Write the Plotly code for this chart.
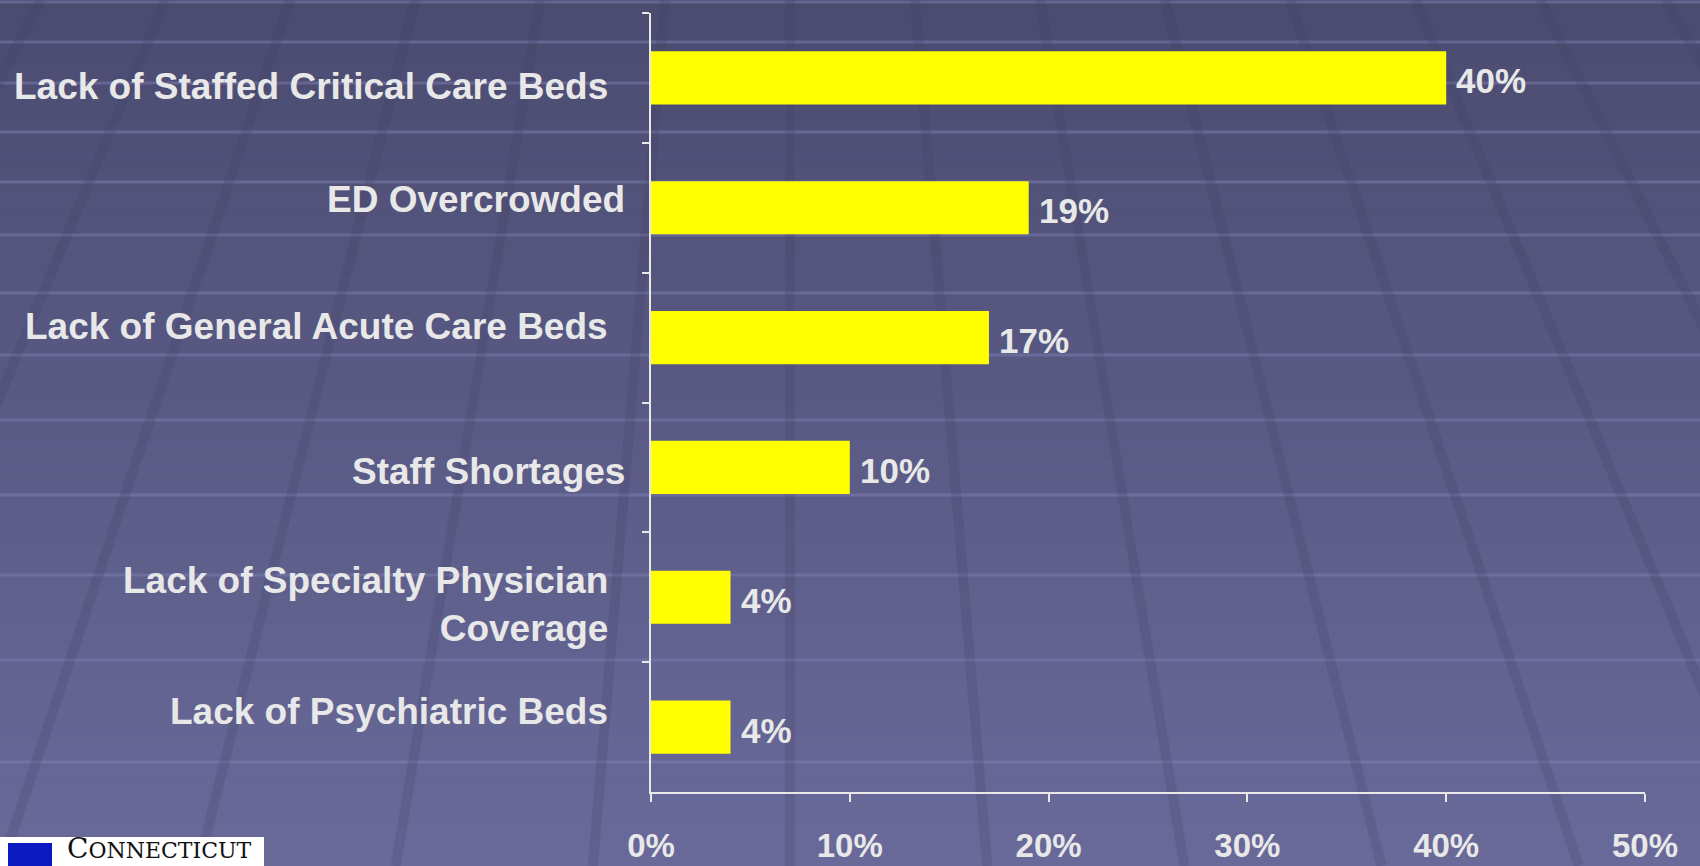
import plotly.graph_objects as go

# ---- data ----
categories = [
    "Lack of Staffed Critical Care Beds",
    "ED Overcrowded",
    "Lack of General Acute Care Beds",
    "Staff Shortages",
    "Lack of Specialty Physician<br>Coverage",
    "Lack of Psychiatric Beds",
]
values = [40, 19, 17, 10, 4, 4]
x_tick_vals = [0, 10, 20, 30, 40, 50]
x_tick_text = ["0%", "10%", "20%", "30%", "40%", "50%"]

# ---- style / layout constants ----
W, H = 1700, 866
L, R, T, B = 651, 1645, 13, 792
label_right_px = [610, 627, 610, 627, 610, 610]
label_yshift = [-9, 8, 11, -4, -7, 16]
TEXT = "#e8e8e8"
FONT = "Liberation Sans, Arial, sans-serif"


def px_x(x):
    return (x - L) / (R - L)


def px_y(y):
    return (B - y) / (B - T)


fig = go.Figure()
fig.add_trace(go.Bar(
    x=values, y=categories, orientation="h",
    marker=dict(color="#ffff00", line=dict(width=0)),
    hoverinfo="skip", showlegend=False,
))

shapes = []
# gradient background
top_c = (75, 75, 112)
bot_c = (105, 106, 154)
N = 90
for i in range(N):
    y0 = H * i / N
    y1 = H * (i + 1) / N + 0.6
    t = (i + 0.5) / N
    c = tuple(round(top_c[k] + (bot_c[k] - top_c[k]) * t) for k in range(3))
    shapes.append(dict(type="rect", xref="paper", yref="paper", layer="below",
                       x0=px_x(-2), x1=px_x(W + 2), y0=px_y(y1 + 2), y1=px_y(y0 - 2),
                       fillcolor="rgb(%d,%d,%d)" % c, line=dict(width=0)))
# horizontal tile stripes
for yy in [2, 42, 83, 132, 182, 235, 293, 355, 420, 495, 575, 660, 762]:
    shapes.append(dict(type="line", xref="paper", yref="paper", layer="below",
                       x0=px_x(-2), x1=px_x(W + 2), y0=px_y(yy), y1=px_y(yy),
                       line=dict(color="rgba(130,130,185,0.45)", width=3)))
# slanted fan lines
xv, yv = 790, -1500
for k in range(-7, 9):
    xt = xv + 125 * k
    xb = xv + (xt - xv) * (H - yv) / (0 - yv)
    shapes.append(dict(type="line", xref="paper", yref="paper", layer="below",
                       x0=px_x(xt), y0=px_y(0), x1=px_x(xb), y1=px_y(H),
                       line=dict(color="rgba(62,62,100,0.22)", width=10)))
# logo
shapes.append(dict(type="rect", xref="paper", yref="paper", layer="above",
                   x0=px_x(-2), x1=px_x(264), y0=px_y(H + 2), y1=px_y(837),
                   fillcolor="white", line=dict(width=0)))
shapes.append(dict(type="rect", xref="paper", yref="paper", layer="above",
                   x0=px_x(8), x1=px_x(52), y0=px_y(H + 2), y1=px_y(843),
                   fillcolor="#0b1ac0", line=dict(width=0)))

annotations = []
for cat, xr, ys in zip(categories, label_right_px, label_yshift):
    annotations.append(dict(
        x=px_x(xr), xref="paper", y=cat, yref="y", xanchor="right", yanchor="middle",
        yshift=ys, text=cat, showarrow=False, align="right",
        font=dict(family=FONT, size=37, color=TEXT, weight="bold")))
for cat, v in zip(categories, values):
    annotations.append(dict(
        x=v, xref="x", y=cat, yref="y", xanchor="left", yanchor="middle",
        xshift=8, yshift=-3, text=f"{v}%", showarrow=False,
        font=dict(family=FONT, size=35, color=TEXT, weight="bold")))
annotations.append(dict(
    x=px_x(66), xref="paper", y=px_y(866), yref="paper", xanchor="left", yanchor="bottom",
    borderpad=0,
    text="C<span style='font-size:22px'>ONNECTICUT</span>", showarrow=False,
    font=dict(family="DejaVu Serif, Liberation Serif, serif", size=28, color="#111111")))

fig.update_layout(
    width=W, height=H,
    margin=dict(l=L, r=W - R, t=T, b=H - B, pad=0, autoexpand=False),
    paper_bgcolor="rgb(104,105,152)",
    plot_bgcolor="rgba(0,0,0,0)",
    bargap=0.59,
    shapes=shapes,
    annotations=annotations,
    xaxis=dict(range=[0, 50], tickvals=x_tick_vals, ticktext=x_tick_text,
               automargin=False,
               showgrid=False, zeroline=False, showline=True, linecolor=TEXT, linewidth=2,
               ticks="outside", ticklen=8, tickwidth=2, tickcolor=TEXT,
               ticklabelstandoff=15,
               tickfont=dict(family=FONT, size=33, color=TEXT, weight="bold")),
    yaxis=dict(autorange="reversed", showgrid=False, zeroline=False, automargin=False,
               showline=True, linecolor=TEXT, linewidth=2,
               ticks="outside", ticklen=7, tickwidth=2, tickcolor=TEXT,
               tickson="boundaries", showticklabels=False),
)

fig.write_html("out.html",
               config={"displayModeBar": False, "responsive": False},
               post_script="document.body.style.margin='0';document.body.style.overflow='hidden';")
